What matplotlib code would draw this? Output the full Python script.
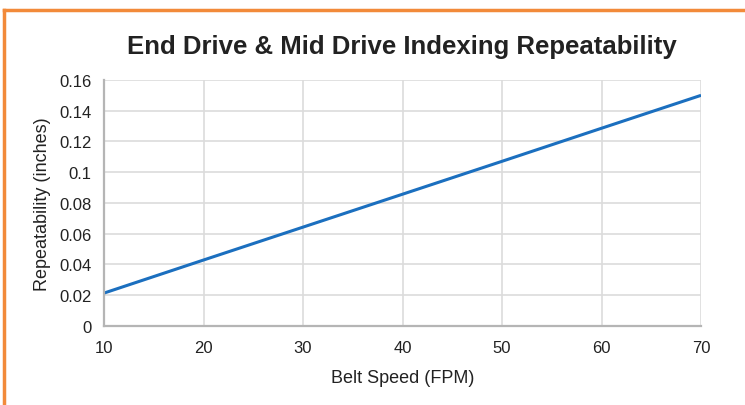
import matplotlib.pyplot as plt
from matplotlib.lines import Line2D
from matplotlib.ticker import FuncFormatter

plt.rcParams["font.family"] = ["Liberation Sans", "DejaVu Sans"]

# belt speed (FPM) vs repeatability (inches)
belt_speed = [10, 20, 30, 40, 50, 60, 70]
repeatability = [0.0214, 0.0429, 0.0643, 0.0857, 0.1071, 0.1286, 0.150]
y_ticks = [0, 0.02, 0.04, 0.06, 0.08, 0.10, 0.12, 0.14, 0.16]
x_ticks = [10, 20, 30, 40, 50, 60, 70]

fig = plt.figure(figsize=(7.45, 4.06), dpi=100)
ax = fig.add_axes([0.1396, 0.1946, 0.8014, 0.606])

ax.plot(belt_speed, repeatability, color="#1b6fbf", lw=2.2, solid_capstyle="butt")

ax.set_xlim(10, 70)
ax.set_ylim(0, 0.16)
ax.set_xticks(x_ticks)
ax.set_yticks(y_ticks)
ax.yaxis.set_major_formatter(FuncFormatter(lambda v, p: f"{v:g}"))
ax.grid(True, color="#dcdcdc", lw=1.2)
ax.set_axisbelow(True)
ax.tick_params(length=0, labelsize=12, colors="#222222")
ax.tick_params(axis="x", pad=10)
ax.tick_params(axis="y", pad=9)

for s in ["top", "right"]:
    ax.spines[s].set_visible(False)
for s in ["left", "bottom"]:
    ax.spines[s].set_color("#b5b5b5")
    ax.spines[s].set_linewidth(1.6)

ax.set_xlabel("Belt Speed (FPM)", fontsize=13, color="#222222", labelpad=10)
ax.set_ylabel("Repeatability (inches)", fontsize=13, color="#222222", labelpad=6)

fig.text(0.54, 0.884, "End Drive & Mid Drive Indexing Repeatability",
         ha="center", va="center", fontsize=18.5, fontweight="bold",
         color="#222222")

# orange frame (left and top edges)
orange = "#f28a3a"
fig.add_artist(Line2D([0.006, 0.006], [0, 0.974], color=orange, lw=2.5,
                      transform=fig.transFigure))
fig.add_artist(Line2D([0.006, 1.0], [0.974, 0.974], color=orange, lw=2.5,
                      transform=fig.transFigure))

fig.savefig("out.png", dpi=100)
